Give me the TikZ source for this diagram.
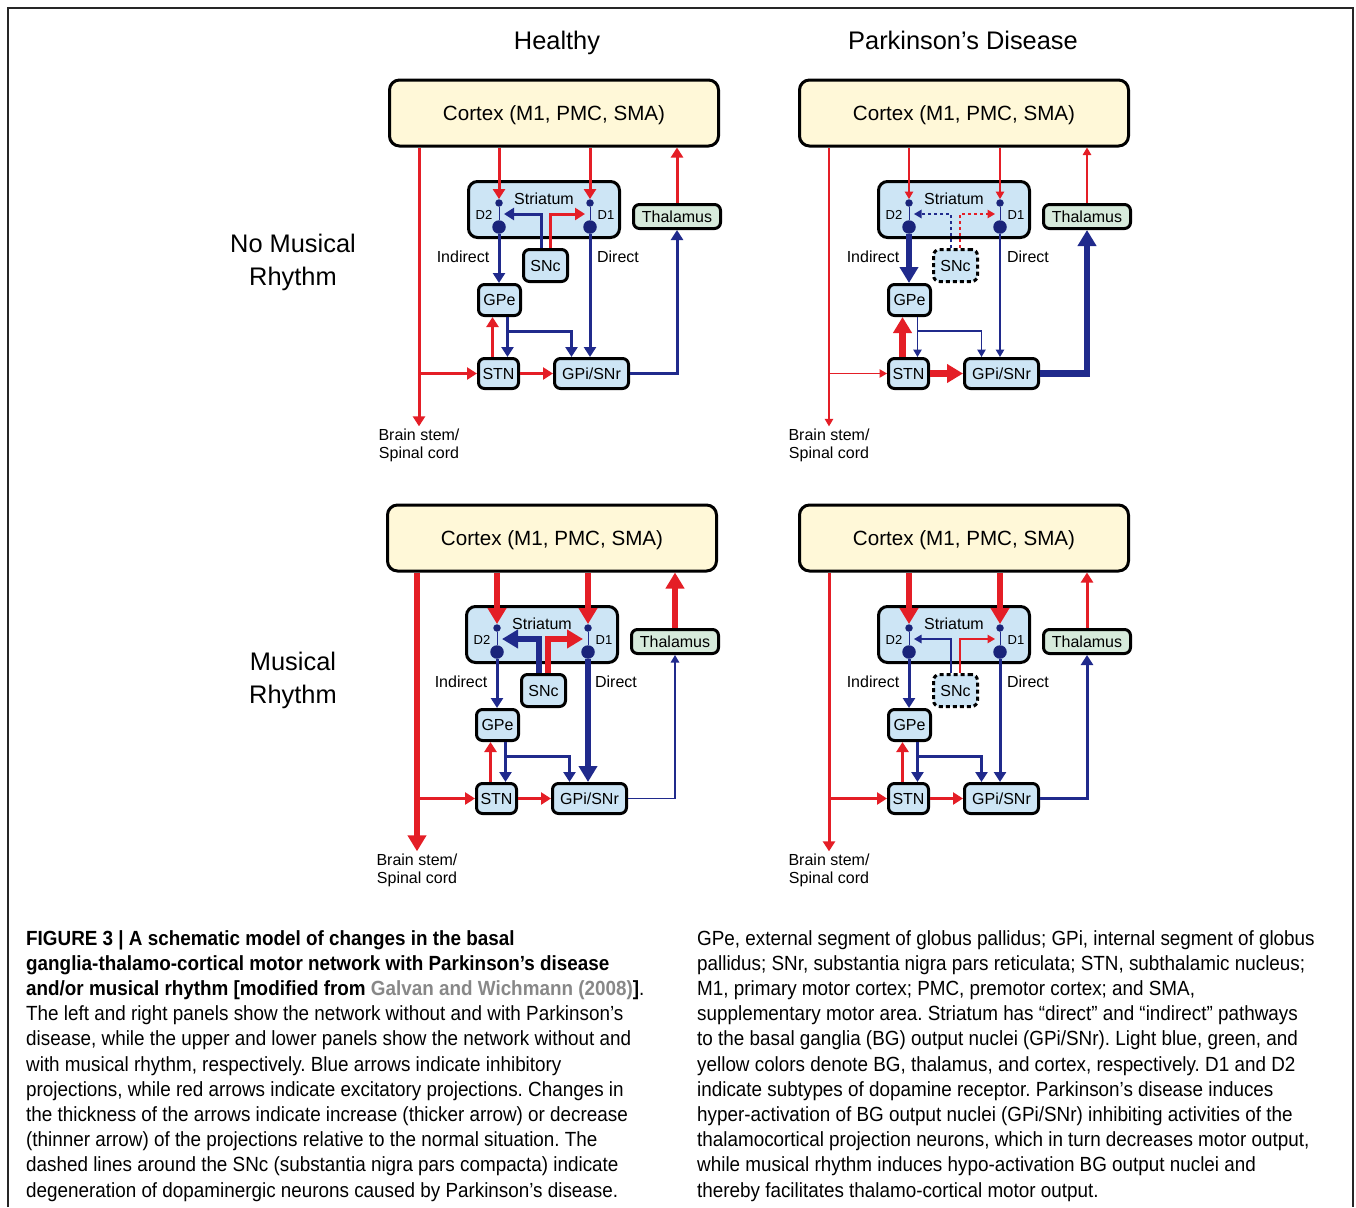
\documentclass[tikz,border=0pt]{standalone}
\usepackage{fontspec}
\setmainfont{Liberation Sans}
\newfontfamily\capfont[FakeStretch=0.92]{Liberation Sans}
\usetikzlibrary{arrows.meta, calc}
\definecolor{excRed}{RGB}{228,30,38}
\definecolor{inhBlue}{RGB}{32,42,140}
\definecolor{dotBlue}{RGB}{26,36,122}
\definecolor{bgFill}{RGB}{205,229,245}
\definecolor{thalFill}{RGB}{214,234,219}
\definecolor{ctxFill}{RGB}{255,248,216}
\definecolor{refGray}{RGB}{136,136,136}
\tikzset{
    bgBox/.style={rectangle, draw, line width=3pt, rounded corners=6pt, fill=bgFill, inner sep=0pt, text height=11.5pt, text depth=0pt, font=\fontsize{16pt}{18pt}\selectfont},
    ctxBox/.style={bgBox, fill=ctxFill, rounded corners=10pt, minimum width=329pt, minimum height=66pt, text height=14.8pt, font=\fontsize{20.6pt}{24pt}\selectfont},
    thalBox/.style={bgBox, fill=thalFill},
    lostBox/.style={bgBox, dash pattern=on 4pt off 3pt},
    sncShape/.style={bgBox},
    dotS/.style={circle, fill=dotBlue, inner sep=0pt, minimum size=7.5pt},
    dotB/.style={circle, fill=dotBlue, inner sep=0pt, minimum size=13.5pt},
    smallLbl/.style={inner sep=0pt, font=\fontsize{16pt}{18pt}\selectfont},
    tinyLbl/.style={inner sep=0pt, font=\fontsize{13pt}{15pt}\selectfont},
    bigLbl/.style={inner sep=0pt, align=center, font=\fontsize{25.4pt}{33pt}\selectfont},
    capText/.style={inner sep=0pt, align=left, font=\capfont\fontsize{20.5pt}{25.2pt}\selectfont\frenchspacing},
    frameLine/.style={draw=black!85, line width=1.5pt},
    excEdge/.style={->, >={Triangle[length=10pt, width=12pt]}, draw=excRed, line width=3pt},
    inhEdge/.style={->, >={Triangle[length=10pt, width=12pt]}, draw=inhBlue, line width=3pt},
    thinLine/.style={line width=1.2pt, >={Triangle[length=7.5pt, width=8.5pt]}},
    thickLine/.style={line width=6.5pt, >={Triangle[length=16pt, width=18pt]}},
    dotLink/.style={draw=inhBlue, line width=1pt},
    % projections, healthy values
    ctxToStr/.style={excEdge},
    sncToD2/.style={inhEdge},
    sncToD1/.style={excEdge},
    d2ToGpe/.style={inhEdge},
    d1ToGpi/.style={inhEdge},
    gpeToStn/.style={inhEdge},
    gpeToGpi/.style={inhEdge},
    stnToGpe/.style={excEdge},
    stnToGpi/.style={excEdge},
    ctxToStn/.style={excEdge},
    ctxToStem/.style={excEdge},
    gpiToThal/.style={inhEdge},
    thalToCtx/.style={excEdge},
}
\newcommand{\drawPanel}[1]{
    % boxes
    \node[ctxBox] (#1-ctx) at (554,113) {Cortex (M1, PMC, SMA)};
    \node[bgBox, rounded corners=9pt, minimum width=151pt, minimum height=56pt] (#1-str) at (544,209.5) {};
    \node[thalBox, minimum width=87pt, minimum height=24pt] (#1-thal) at (677,216.5) {Thalamus};
    \node[sncShape, minimum width=44pt, minimum height=32pt] (#1-snc) at (545.5,265.5) {SNc};
    \node[bgBox, minimum width=42pt, minimum height=31pt] (#1-gpe) at (499.5,300) {GPe};
    \node[bgBox, minimum width=40pt, minimum height=30pt] (#1-stn) at (498.5,373.5) {STN};
    \node[bgBox, minimum width=74pt, minimum height=30pt] (#1-gpi) at (591.5,373.5) {GPi/SNr};
    \node[smallLbl, inner sep=2pt, align=center] (#1-stem) at (419,445) {Brain stem/\\Spinal cord};
    % labels
    \node[smallLbl] (#1-strLbl) at (544,199) {Striatum};
    \node[tinyLbl] (#1-d2Lbl) at (484,215) {D2};
    \node[tinyLbl] (#1-d1Lbl) at (606,215) {D1};
    \node[smallLbl] (#1-ind) at (463,257) {Indirect};
    \node[smallLbl] (#1-dir) at (618,257) {Direct};
    % receptors
    \node[dotS] (#1-d2s) at (499,203) {};
    \node[dotB] (#1-d2b) at (499,227) {};
    \node[dotS] (#1-d1s) at (590,203) {};
    \node[dotB] (#1-d1b) at (590,227) {};
    \draw[dotLink] (#1-d2s) -- (#1-d2b);
    \draw[dotLink] (#1-d1s) -- (#1-d1b);
    \coordinate (#1-d2in) at (504,214);
    \coordinate (#1-d1in) at (585,214);
    \coordinate (#1-jn) at (#1-stem.north |- #1-stn.west);
    % projections
    \draw[ctxToStr] (#1-d2s |- #1-ctx.south) -- (#1-d2s.north);
    \draw[ctxToStr] (#1-d1s |- #1-ctx.south) -- (#1-d1s.north);
    \draw[sncToD2] ($(#1-snc.north)+(-4.5,0)$) |- (#1-d2in);
    \draw[sncToD1] ($(#1-snc.north)+(4.5,0)$) |- (#1-d1in);
    \draw[d2ToGpe] (#1-d2b.south) -- (#1-d2b.south |- #1-gpe.north);
    \draw[d1ToGpi] (#1-d1b.south) -- (#1-d1b.south |- #1-gpi.north);
    \draw[gpeToStn] ($(#1-gpe.south)+(8,0)$) coordinate (#1-gpeOut) -- (#1-gpeOut |- #1-stn.north);
    \draw[gpeToGpi] (#1-gpeOut) -- ++(0,14) -| ($(#1-gpi.north)+(-20,0)$);
    \draw[stnToGpe] ($(#1-stn.north)+(-6,0)$) coordinate (#1-stnOut) -- (#1-stnOut |- #1-gpe.south);
    \draw[stnToGpi] (#1-stn.east) -- (#1-gpi.west);
    \draw[ctxToStn] (#1-jn) -- (#1-stn.west);
    \draw[ctxToStem] (#1-jn |- #1-ctx.south) -- (#1-stem.north);
    \draw[gpiToThal] (#1-gpi.east) -| (#1-thal.south);
    \draw[thalToCtx] (#1-thal.north) -- (#1-thal.north |- #1-ctx.south);
}

\begin{document}
\begin{tikzpicture}[x=1pt, y=-1pt]
    \useasboundingbox (0,0) rectangle (1356,1207);
    \coordinate (fBL) at (8,1207);
    \coordinate (fTR) at (1353,8);
    \coordinate (fBR) at (1353,1207);
    \draw[frameLine] (fBL) |- (fTR) -- (fBR);

    \node[bigLbl, anchor=base] (healthy) at (557,49) {Healthy};
    \node[bigLbl, anchor=base] (parkinson) at (963,49) {Parkinson’s Disease};
    \node[bigLbl] (noRhythm) at (293,262) {No Musical\\Rhythm};
    \node[bigLbl] (rhythm) at (293,680) {Musical\\Rhythm};

    \drawPanel{hl}

    \begin{scope}[shift={(410,0)},
        ctxToStr/.style={excEdge, thinLine},
        sncToD2/.style={inhEdge, thinLine, dashed},
        sncToD1/.style={excEdge, thinLine, dashed},
        d2ToGpe/.style={inhEdge, thickLine},
        d1ToGpi/.style={inhEdge, thinLine},
        gpeToStn/.style={inhEdge, thinLine},
        gpeToGpi/.style={inhEdge, thinLine},
        stnToGpe/.style={excEdge, thickLine},
        stnToGpi/.style={excEdge, thickLine},
        ctxToStn/.style={excEdge, thinLine},
        ctxToStem/.style={excEdge, thinLine},
        gpiToThal/.style={inhEdge, thickLine},
        thalToCtx/.style={excEdge, thinLine},
        sncShape/.style={lostBox}]
        \drawPanel{pd}
    \end{scope}

    \begin{scope}[shift={(-2,425)},
        ctxToStr/.style={excEdge, thickLine},
        sncToD2/.style={inhEdge, thickLine},
        sncToD1/.style={excEdge, thickLine},
        d1ToGpi/.style={inhEdge, thickLine},
        ctxToStem/.style={excEdge, thickLine},
        gpiToThal/.style={inhEdge, thinLine},
        thalToCtx/.style={excEdge, thickLine}]
        \drawPanel{mr}
    \end{scope}

    \begin{scope}[shift={(410,425)},
        ctxToStr/.style={excEdge, thickLine},
        sncToD2/.style={inhEdge, thinLine},
        sncToD1/.style={excEdge, thinLine},
        sncShape/.style={lostBox}]
        \drawPanel{pm}
    \end{scope}

    \node[capText, anchor=north west] (capLeft) at (26,930) {%
        {\bfseries FIGURE 3 | A schematic model of changes in the basal}\\
        {\bfseries ganglia-thalamo-cortical motor network with Parkinson’s disease}\\
        {\bfseries and/or musical rhythm [modified from \textcolor{refGray}{Galvan and Wichmann (2008)}]}.\\
        The left and right panels show the network without and with Parkinson’s\\
        disease, while the upper and lower panels show the network without and\\
        with musical rhythm, respectively. Blue arrows indicate inhibitory\\
        projections, while red arrows indicate excitatory projections. Changes in\\
        the thickness of the arrows indicate increase (thicker arrow) or decrease\\
        (thinner arrow) of the projections relative to the normal situation. The\\
        dashed lines around the SNc (substantia nigra pars compacta) indicate\\
        degeneration of dopaminergic neurons caused by Parkinson’s disease.};
    \node[capText, anchor=north west] (capRight) at (697,930) {%
        GPe, external segment of globus pallidus; GPi, internal segment of globus\\
        pallidus; SNr, substantia nigra pars reticulata; STN, subthalamic nucleus;\\
        M1, primary motor cortex; PMC, premotor cortex; and SMA,\\
        supplementary motor area. Striatum has “direct” and “indirect” pathways\\
        to the basal ganglia (BG) output nuclei (GPi/SNr). Light blue, green, and\\
        yellow colors denote BG, thalamus, and cortex, respectively. D1 and D2\\
        indicate subtypes of dopamine receptor. Parkinson’s disease induces\\
        hyper-activation of BG output nuclei (GPi/SNr) inhibiting activities of the\\
        thalamocortical projection neurons, which in turn decreases motor output,\\
        while musical rhythm induces hypo-activation BG output nuclei and\\
        thereby facilitates thalamo-cortical motor output.};
\end{tikzpicture}
\end{document}
